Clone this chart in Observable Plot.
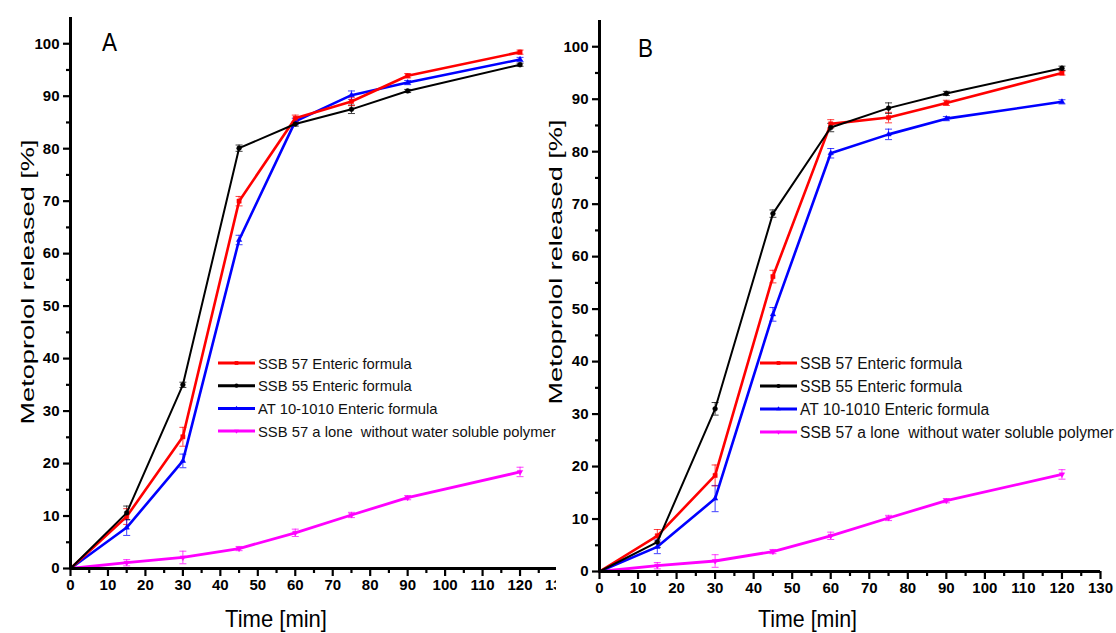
<!DOCTYPE html>
<html><head><meta charset="utf-8">
<script src="https://cdn.jsdelivr.net/npm/d3@7"></script>
<script src="https://cdn.jsdelivr.net/npm/@observablehq/plot@0.6"></script>
<style>
body{margin:0;background:#fff;}
#wrap{position:relative;width:1116px;height:633px;overflow:hidden;background:#fff}
#pa{position:absolute;left:0;top:0;width:556px;height:633px;overflow:hidden}
#pb{position:absolute;left:530px;top:0;width:586px;height:633px}
#wrap svg{font-family:"Liberation Sans",Arial,sans-serif;max-width:none !important;height:633px !important;}
#wrap svg g[aria-label$="tick label"]{font-weight:bold;}
</style></head><body><div id="wrap"><div id="pa"></div><div id="pb"></div></div>
<script>
// ---- data ----
const times = [0, 15, 30, 45, 60, 75, 90, 120];
const seriesNames = ["SSB 57 Enteric formula", "SSB 55 Enteric formula", "AT 10-1010 Enteric formula", "SSB 57 a lone  without water soluble polymer"];
const seriesColors = ["#ff0000", "#000000", "#0000ff", "#ff00ff"];
const xMajorTicks = [0,10,20,30,40,50,60,70,80,90,100,110,120,130];
const xMinorTicks = [5,15,25,35,45,55,65,75,85,95,105,115,125];
const yMajorTicks = [0,10,20,30,40,50,60,70,80,90,100];
const yMinorTicks = [5,15,25,35,45,55,65,75,85,95];
const axisTitleX = "Time [min]";
const axisTitleY = "Metoprolol released [%]";

// Panel A
const A_ssb57 = [0, 9.9, 25.1, 70.0, 85.8, 89.0, 93.9, 98.4];
const A_ssb57_err = [0, 1.5, 1.8, 0.9, 0.6, 0.8, 0.4, 0.4];
const A_ssb55 = [0, 10.6, 35.0, 80.1, 84.7, 87.5, 91.0, 96.0];
const A_ssb55_err = [0, 1.3, 0.5, 0.6, 0.4, 0.8, 0.3, 0.3];
const A_at10 = [0, 7.8, 20.5, 62.6, 85.2, 90.2, 92.6, 97.0];
const A_at10_err = [0, 1.5, 1.3, 0.9, 0.6, 0.8, 0.4, 0.4];
const A_alone = [0, 1.1, 2.1, 3.8, 6.8, 10.2, 13.5, 18.4];
const A_alone_err = [0, 0.6, 1.2, 0.4, 0.7, 0.5, 0.4, 0.9];

// Panel B
const B_ssb57 = [0, 6.8, 18.3, 56.2, 85.3, 86.5, 89.3, 95.0];
const B_ssb57_err = [0, 1.2, 2.0, 1.2, 0.8, 1.0, 0.5, 0.4];
const B_ssb55 = [0, 5.6, 31.0, 68.2, 84.6, 88.3, 91.1, 95.9];
const B_ssb55_err = [0, 1.0, 1.2, 0.7, 0.8, 1.0, 0.4, 0.4];
const B_at10 = [0, 4.7, 13.9, 49.0, 79.7, 83.3, 86.3, 89.5];
const B_at10_err = [0, 1.3, 2.5, 1.3, 0.9, 1.0, 0.4, 0.4];
const B_alone = [0, 1.1, 2.0, 3.8, 6.8, 10.2, 13.5, 18.5];
const B_alone_err = [0, 0.6, 1.2, 0.4, 0.7, 0.5, 0.4, 0.9];

// ---- symbols ----
const capSym = {draw(ctx, size){ const w = Math.sqrt(size/Math.PI); ctx.moveTo(-w,0); ctx.lineTo(w,0); }};
const triDown = {draw(ctx, size){ const r = Math.sqrt(size/Math.PI)*1.3; ctx.moveTo(0, r); ctx.lineTo(r*0.87, -r*0.5); ctx.lineTo(-r*0.87, -r*0.5); ctx.closePath(); }};
const triUp = {draw(ctx, size){ const r = Math.sqrt(size/Math.PI)*1.3; ctx.moveTo(0, -r); ctx.lineTo(r*0.87, r*0.5); ctx.lineTo(-r*0.87, r*0.5); ctx.closePath(); }};
const seriesSymbols = ["square", "circle", triUp, triDown];
const seriesWidths = [2.6, 2.0, 2.6, 2.8];
const d3Symbols = [d3.symbolSquare, d3.symbolCircle, triUp, triDown];

function panel(cfg) {
  const rows = [];
  cfg.values.forEach((vals, i) => vals.forEach((v, j) => rows.push({series: seriesNames[i], idx: i, t: times[j], v, e: cfg.errors[i][j]})));
  const errRows = rows.filter(d => d.e > 0);
  const marks = [];
  // error bars
  marks.push(Plot.ruleX(errRows, {x: "t", y1: d => d.v - d.e, y2: d => d.v + d.e, stroke: "series", strokeWidth: 1, strokeOpacity: 0.75}));
  marks.push(Plot.dot(errRows, {x: "t", y: d => d.v + d.e, symbol: capSym, r: 3.5, stroke: "series", strokeWidth: 1, strokeOpacity: 0.75}));
  marks.push(Plot.dot(errRows, {x: "t", y: d => d.v - d.e, symbol: capSym, r: 3.5, stroke: "series", strokeWidth: 1, strokeOpacity: 0.75}));
  // lines & markers
  [3, 2, 0, 1].forEach(i => {
    const data = rows.filter(d => d.idx === i);
    marks.push(Plot.line(data, {x: "t", y: "v", stroke: seriesColors[i], strokeWidth: seriesWidths[i]}));
    marks.push(Plot.dot(data.filter(d => d.t > 0), {x: "t", y: "v", symbol: seriesSymbols[i], r: 2.4, fill: seriesColors[i], stroke: seriesColors[i], strokeWidth: 0.5}));
  });
  // axes
  marks.push(Plot.axisX({ticks: xMajorTicks, tickSize: 8, tickPadding: 3, strokeWidth: 2.2, fontSize: 15, tickFormat: d => String(d), label: null}));
  marks.push(Plot.axisX({ticks: xMinorTicks, tickSize: 5, strokeWidth: 2.2, tickFormat: () => "", label: null}));
  marks.push(Plot.axisY({ticks: yMajorTicks, tickSize: 7, tickPadding: 4, strokeWidth: 2.2, fontSize: 15, tickFormat: d => String(d), label: null}));
  marks.push(Plot.axisY({ticks: yMinorTicks, tickSize: 4, strokeWidth: 2.2, tickFormat: () => "", label: null}));
  marks.push(Plot.ruleX([0], {strokeWidth: 3}));
  marks.push(Plot.ruleY([0], {strokeWidth: 3}));

  const svg = Plot.plot({
    width: cfg.width, height: 633,
    marginLeft: cfg.ml, marginRight: cfg.mr, marginTop: cfg.mt, marginBottom: cfg.mb,
    x: {domain: [0, 130], label: null},
    y: {domain: [0, 105], label: null},
    color: {domain: seriesNames, range: seriesColors},
    style: {background: "transparent", color: "#000", fontFamily: "'Liberation Sans', Arial, sans-serif", overflow: "visible", maxWidth: "none", height: "633px"},
    marks
  });
  svg.style.maxWidth = "none";
  svg.style.height = "633px";
  svg.style.width = cfg.width + "px";
  const s = d3.select(svg);
  // axis titles
  s.append("text").attr("x", cfg.xl.x).attr("y", cfg.xl.y).attr("font-size", 24).attr("text-anchor", "start")
    .attr("textLength", cfg.xl.len).attr("lengthAdjust", "spacingAndGlyphs").attr("fill", "#000").text(axisTitleX);
  s.append("text").attr("transform", `translate(${cfg.yl.x},${cfg.yl.y}) rotate(-90)`).attr("text-anchor", "middle")
    .attr("font-size", 19).attr("textLength", 285).attr("lengthAdjust", "spacingAndGlyphs").attr("fill", "#000").text(axisTitleY);
  // panel letter
  s.append("text").attr("x", cfg.letter.x).attr("y", cfg.letter.y).attr("font-size", 26).attr("text-anchor", "start")
    .attr("textLength", 15).attr("lengthAdjust", "spacingAndGlyphs").attr("fill", "#000").text(cfg.letter.t);
  // legend
  const lg = s.append("g").attr("text-anchor", "start");
  seriesNames.forEach((name, i) => {
    const y = cfg.lg.y0 + i * cfg.lg.dy;
    lg.append("line").attr("x1", cfg.lg.x).attr("x2", cfg.lg.x + cfg.lg.w).attr("y1", y).attr("y2", y)
      .attr("stroke", seriesColors[i]).attr("stroke-width", 3);
    lg.append("path").attr("transform", `translate(${cfg.lg.x + cfg.lg.w/2},${y})`)
      .attr("d", d3.symbol(d3Symbols[i], 14)()).attr("fill", seriesColors[i]);
    lg.append("text").attr("x", cfg.lg.x + cfg.lg.w + 3).attr("y", y + 5.5).attr("font-size", cfg.lg.fs)
      .attr("text-anchor", "start").attr("fill", "#111").attr("xml:space", "preserve").style("white-space", "pre").text(name);
  });
  return svg;
}

document.getElementById("pa").appendChild(panel({
  values: [A_ssb57, A_ssb55, A_at10, A_alone],
  errors: [A_ssb57_err, A_ssb55_err, A_at10_err, A_alone_err],
  width: 570, ml: 70, mr: 13, mt: 17, mb: 65,
  xl: {x: 225, y: 627, len: 102},
  yl: {x: 34, y: 282},
  letter: {x: 102, y: 51, t: "A"},
  lg: {x: 218, w: 37, y0: 363, dy: 22.7, fs: 14.8}
}));
document.getElementById("pb").appendChild(panel({
  values: [B_ssb57, B_ssb55, B_at10, B_alone],
  errors: [B_ssb57_err, B_ssb55_err, B_at10_err, B_alone_err],
  width: 586, ml: 69, mr: 16, mt: 20, mb: 62,
  xl: {x: 228, y: 627, len: 99},
  yl: {x: 32, y: 262},
  letter: {x: 108, y: 57, t: "B"},
  lg: {x: 230, w: 37, y0: 363, dy: 23, fs: 15.6}
}));
</script>
</body></html>
